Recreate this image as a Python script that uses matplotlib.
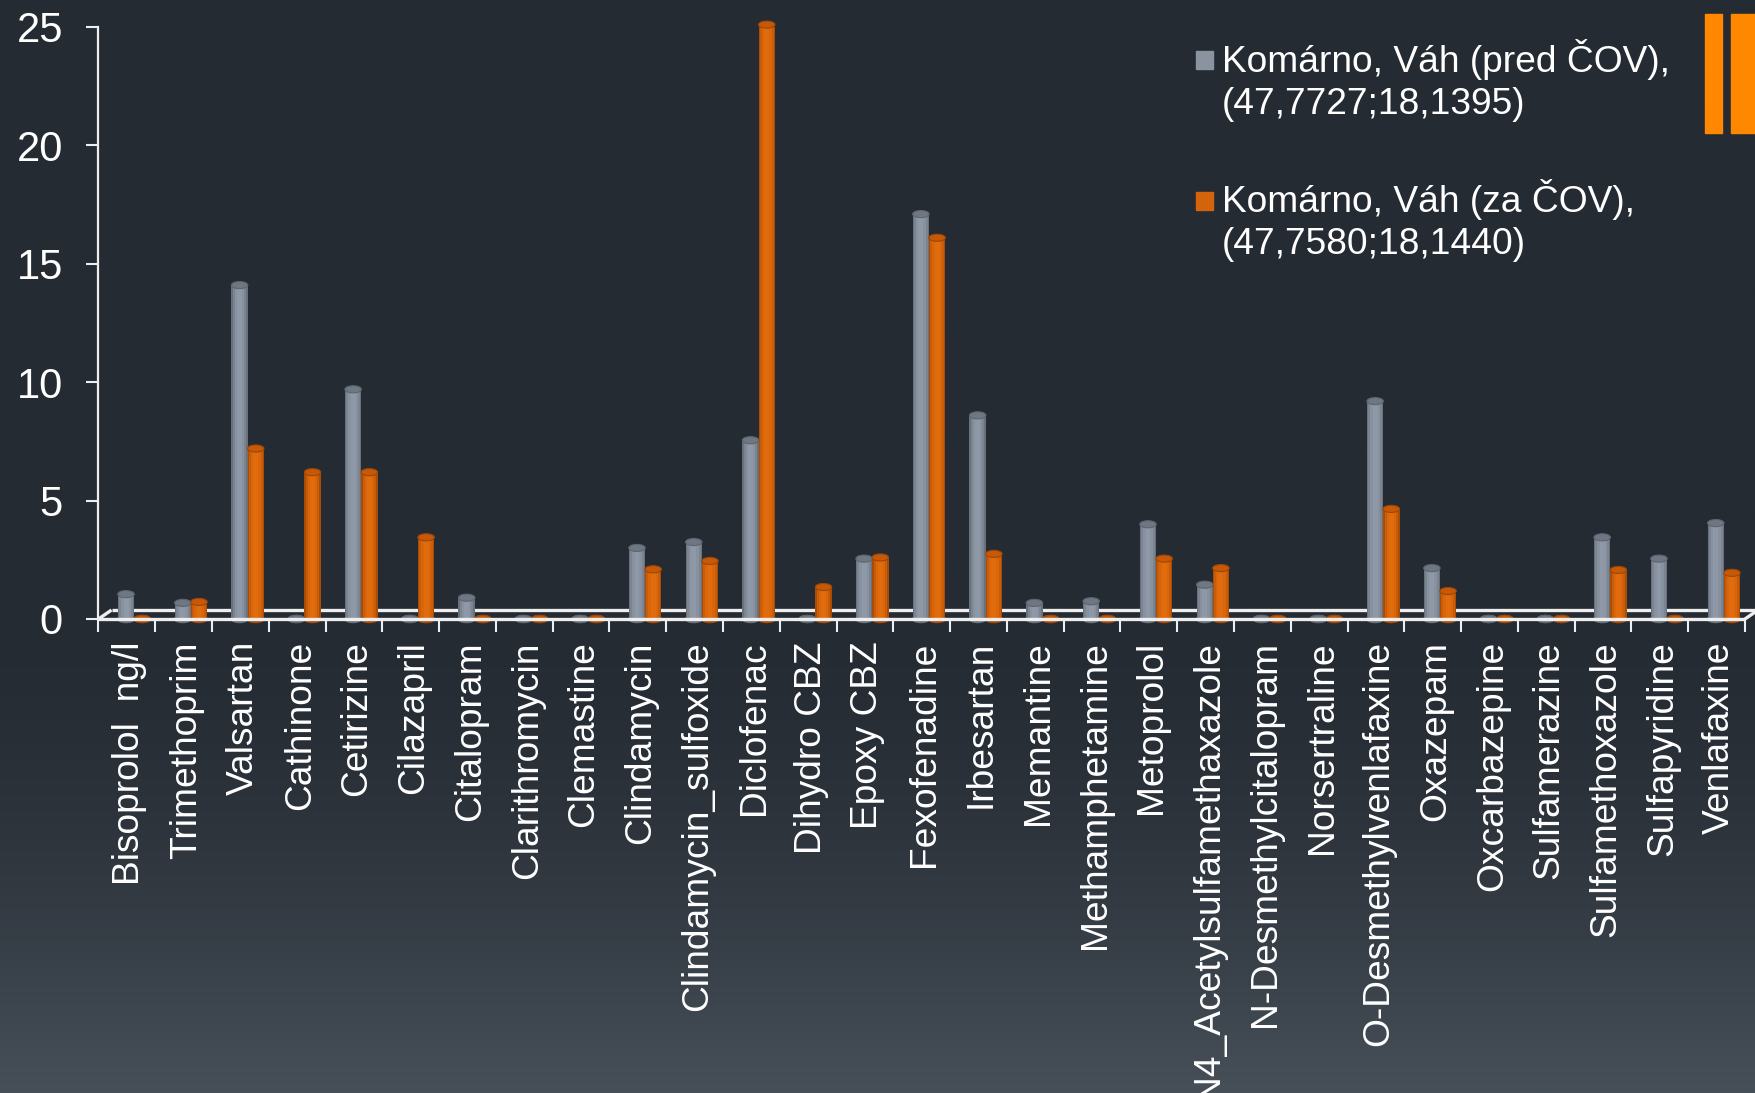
import numpy as np
import matplotlib
matplotlib.use('Agg')
import matplotlib.pyplot as plt
import matplotlib.transforms as mtransforms
from matplotlib.patches import Ellipse, Rectangle

plt.rcParams['font.family'] = ['Liberation Sans', 'DejaVu Sans']

# Concentrations (ng/l) upstream / downstream of the Komárno WWTP
compounds = ['Bisoprolol  ng/l', 'Trimethoprim', 'Valsartan', 'Cathinone', 'Cetirizine',
             'Cilazapril', 'Citalopram', 'Clarithromycin', 'Clemastine', 'Clindamycin',
             'Clindamycin_sulfoxide', 'Diclofenac', 'Dihydro CBZ', 'Epoxy CBZ', 'Fexofenadine',
             'Irbesartan', 'Memantine', 'Methamphetamine', 'Metoprolol',
             'N4_Acetylsulfamethaxazole', 'N-Desmethylcitalopram', 'Norsertraline',
             'O-Desmethylvenlafaxine', 'Oxazepam', 'Oxcarbazepine', 'Sulfamerazine',
             'Sulfamethoxazole', 'Sulfapyridine', 'Venlafaxine']
pred_cov = [1.05, 0.68, 14.1, 0, 9.7, 0, 0.9, 0, 0, 3.0, 3.25, 7.55, 0, 2.55, 17.1,
            8.6, 0.68, 0.75, 4.0, 1.45, 0, 0, 9.2, 2.15, 0, 0, 3.45, 2.55, 4.05]
za_cov = [0, 0.72, 7.2, 6.2, 6.2, 3.45, 0, 0, 0, 2.1, 2.45, 25.1, 1.35, 2.6, 16.1,
          2.75, 0, 0, 2.55, 2.15, 0, 0, 4.65, 1.18, 0, 0, 2.07, 0, 1.95]
series_names = [('Komárno, Váh (pred ČOV),', '(47,7727;18,1395)'),
                ('Komárno, Váh (za ČOV),', '(47,7580;18,1440)')]
y_ticks = [0, 5, 10, 15, 20, 25]

W, H = 1756, 1093
fig = plt.figure(figsize=(W / 100, H / 100), dpi=100)

# background: dark slate, lightening towards the bottom
bg = fig.add_axes([0, 0, 1, 1], zorder=-10)
rows = np.linspace(0, 1, 400)
t = np.clip((rows - 0.55) / 0.45, 0, 1) ** 1.8
top_c = np.array([37, 43, 51]) / 255
bot_c = np.array([71, 80, 89]) / 255
grad = top_c[None, :] + t[:, None] * (bot_c - top_c)[None, :]
bg.imshow(grad[:, None, :], aspect='auto', extent=[0, 1, 0, 1], origin='upper')
bg.axis('off')

ax = fig.add_axes([98.5 / W, 1 - 619 / H, (1745 - 98.5) / W, (619 - 27) / H])
ax.set_facecolor('none')
n = len(compounds)
ax.set_xlim(0, n)
ax.set_ylim(0, 25)

x = np.arange(n) + 0.5
bw = 0.29
eh = 0.3  # ellipse height of cylinder caps (data units)

def cylinders(xpos, vals, shades, cap, rim):
    vals = np.asarray(vals, dtype=float)
    # body shaded from darker edges to a lighter middle
    for frac, col in zip([1.0, 0.82, 0.58, 0.3], shades):
        ax.bar(xpos, vals, bw * frac, color=col, linewidth=0, zorder=3)
    for xi, v in zip(xpos, vals):
        ax.add_patch(Ellipse((xi, 0), bw, eh, color=shades[0], zorder=2.9, clip_on=False))
        ax.add_patch(Ellipse((xi, v), bw, eh, facecolor=cap, edgecolor=rim, lw=0.8,
                             zorder=4, clip_on=False))

cylinders(x - 0.015, pred_cov, ['#68717c', '#7b8591', '#87919f', '#8e98a6'], '#6e7782', '#5d656f')
cylinders(x + 0.27, za_cov, ['#a94c06', '#c95c08', '#da660b', '#e16c0e'], '#c65908', '#9e4606')

# floor of the 3-D plot area
dx, dy = 0.23, 0.38
line_kw = dict(color='#eeeeee', lw=2.4, clip_on=False, solid_capstyle='butt')
ax.plot([dx, n + dx], [dy, dy], zorder=2, **line_kw)
ax.plot([0, dx], [0, dy], zorder=2, **line_kw)
ax.plot([n, n + dx], [0, dy], zorder=2, **line_kw)
ax.plot([0, n], [0, 0], zorder=5, **line_kw)

for s in ['top', 'right', 'bottom']:
    ax.spines[s].set_visible(False)
ax.spines['left'].set_color('#eeeeee')
ax.spines['left'].set_linewidth(1.6)

ax.set_yticks(y_ticks)
ax.tick_params(axis='y', colors='#eeeeee', labelcolor='white', length=8.6, width=1.5,
               labelsize=30, pad=17)
ax.set_xticks(np.arange(n + 1))
ax.set_xticklabels([])
ax.set_xticks(x, compounds, minor=True)
ax.tick_params(axis='x', which='major', colors='#eeeeee', length=9, width=1.5)
ax.tick_params(axis='x', which='minor', length=0, labelcolor='white', labelsize=26.7,
               pad=16, labelrotation=90)
shift = mtransforms.ScaledTranslation(3 / 100, 0, fig.dpi_scale_trans)
for lbl in ax.get_xticklabels(minor=True):
    lbl.set_transform(lbl.get_transform() + shift)

# legend drawn by hand
def fx(px):
    return px / W

def fy(py):
    return 1 - py / H

for (l1, l2), col, ytop, base in [(series_names[0], '#8a93a0', 51, 72),
                                   (series_names[1], '#d4640c', 192, 212)]:
    fig.patches.append(Rectangle((fx(1196), fy(ytop + 18)), 17 / W, 18 / H, color=col,
                                 transform=fig.transFigure, figure=fig))
    fig.text(fx(1222), fy(base), l1, color='white', fontsize=26.7, va='baseline')
    fig.text(fx(1222), fy(base + 42), l2, color='white', fontsize=26.7, va='baseline')

# orange accent stripes in the corner
for x0, x1 in [(1705, 1722), (1731, 1760)]:
    fig.patches.append(Rectangle((fx(x0), fy(133)), (x1 - x0) / W, 119 / H, color='#ff8800',
                                 transform=fig.transFigure, figure=fig))

fig.savefig('out.png', dpi=100)
